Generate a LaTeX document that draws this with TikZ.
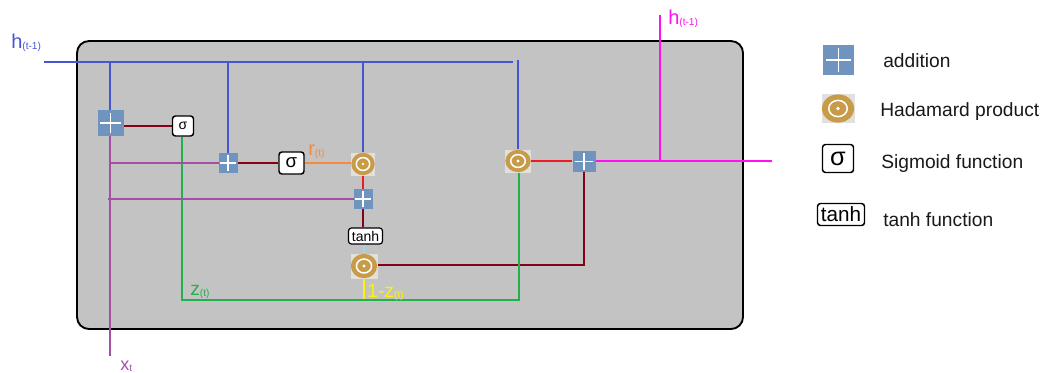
\documentclass[tikz,border=0pt]{standalone}
\usepackage{fontspec}
\setmainfont{Liberation Sans}
\pgfdeclarelayer{panellayer}
\pgfdeclarelayer{wirelayer}
\pgfsetlayers{panellayer,wirelayer,main}
\definecolor{panelgray}{HTML}{C3C3C3}
\definecolor{plusblue}{HTML}{7094C0}
\definecolor{gold}{HTML}{C89B48}
\definecolor{hadbg}{HTML}{E2E0DC}
\definecolor{hblue}{HTML}{4655D2}
\definecolor{xpurple}{HTML}{A44FA6}
\definecolor{zgreen}{HTML}{22B14C}
\definecolor{dred}{HTML}{880015}
\definecolor{lred}{HTML}{ED1C24}
\definecolor{rorange}{HTML}{F58A3C}
\definecolor{ymag}{HTML}{FF10F0}
\definecolor{yyellow}{HTML}{FFF200}
\definecolor{lblue}{HTML}{99D9EA}
\newcommand{\lbl}[3]{\fontsize{#1}{#1}\selectfont #2\raisebox{-0.75pt}{\fontsize{7.6}{8}\selectfont #3}}
\tikzset{
  addbox/.style 2 args={rectangle,draw=none,fill=plusblue,inner sep=0pt,minimum width=#1*0.75pt,minimum height=#2*0.75pt,
    path picture={
      \draw[white,line width=0.9pt] ([xshift=-#1*0.3pt]path picture bounding box.center) -- ([xshift=#1*0.3pt]path picture bounding box.center);
      \draw[white,line width=0.9pt] ([yshift=-#2*0.3pt]path picture bounding box.center) -- ([yshift=#2*0.3pt]path picture bounding box.center);
    }},
  hadbox/.style 2 args={rectangle,draw=none,fill=hadbg,inner sep=0pt,minimum width=#1*0.75pt,minimum height=#2*0.75pt,
    path picture={
      \fill[gold] (path picture bounding box.center) ellipse [x radius=#1*0.365pt,y radius=#2*0.365pt];
      \draw[white,line width=1.15pt] (path picture bounding box.center) ellipse [x radius=#1*0.21pt,y radius=#2*0.21pt];
      \fill[white] (path picture bounding box.center) circle [radius=#1*0.045pt];
    }},
  fnbox/.style={rectangle,rounded corners=2.2pt,draw=black,line width=1.1pt,fill=white,inner sep=0pt},
  wire/.style={line width=1.5pt,line cap=butt},
  label text/.style={inner sep=0pt,anchor=base west},
  legend text/.style={inner sep=0pt,anchor=base west,font=\fontsize{14.4}{15}\selectfont,text=black!90},
}
\begin{document}
\begin{tikzpicture}[x=0.75pt,y=-0.75pt]
\useasboundingbox (0,0) rectangle (1045,372);
\begin{pgfonlayer}{panellayer}
\node[rectangle,rounded corners=9pt,draw=black,line width=1.4pt,fill=panelgray,minimum width=666*0.75pt,minimum height=288*0.75pt,inner sep=0pt] (panel) at (410,185) {};
\end{pgfonlayer}
% junctions
\coordinate (hin) at (44,62);
\coordinate (hend) at (513,62);
\coordinate (hj) at (110,62);
\coordinate (hgap) at (518,60);
\coordinate (xend) at (110,356);
\coordinate (xa) at (110,163);
\coordinate (xb) at (108,199);
\coordinate (gc) at (182,300);
\coordinate (gd) at (519,300);
\coordinate (dc) at (584,265);
\coordinate (mout) at (772,161);
\coordinate (mtop) at (660,15);
\coordinate (mj) at (660,161);
% nodes
\node[addbox={26}{26}] (add1) at (110.5,123) {};
\node[fnbox,minimum width=21*0.75pt,minimum height=20*0.75pt,font=\fontsize{10.5}{11}\selectfont] (sig1) at (183,126) {σ};
\node[addbox={19}{20}] (add2) at (228,163) {};
\node[fnbox,minimum width=25*0.75pt,minimum height=22*0.75pt,font=\fontsize{14}{14}\selectfont] (sig2) at (291.5,163) {σ};
\node[hadbox={24}{23}] (had1) at (363,164) {};
\node[addbox={19}{20}] (add3) at (363,199) {};
\node[fnbox,minimum width=34*0.75pt,minimum height=16*0.75pt,line width=0.9pt,font=\fontsize{10.5}{11}\selectfont] (tanh) at (365.5,236) {tanh};
\node[hadbox={27}{25}] (had2) at (364,266) {};
\node[hadbox={26}{23}] (had3) at (518,161) {};
\node[addbox={23}{21}] (add4) at (584,161.5) {};
% wires
\begin{pgfonlayer}{wirelayer}
\draw[wire,hblue] (hin) -- (hend);
\draw[wire,hblue] (hj) -- (hj |- add1.north);
\draw[wire,hblue] (add2 |- hin) -- (add2);
\draw[wire,hblue] (had1 |- hin) -- (had1);
\draw[wire,hblue] (hgap) -- (hgap |- had3.north);
\draw[wire,yyellow] (had2.south) -- (had2 |- gc);
\draw[wire,dred] (had2.east |- dc) -- (dc) -- (add4.south);
\draw[wire,zgreen] (gc |- sig1.south) -- (gc) -- (gd) -- (gd |- had3.south);
\draw[wire,xpurple] (xend |- add1.south) -- (xend);
\draw[wire,xpurple] (xa) -- (add2 |- xa);
\draw[wire,xpurple] (xb) -- (add3 |- xb);
\draw[wire,dred] (add1.east |- sig1) -- (sig1.west);
\draw[wire,dred] (add2.east |- sig2) -- (sig2.west);
\draw[wire,rorange] (sig2.east) -- (had1.west |- sig2);
\draw[wire,lred] (had1.south) -- (add3.north);
\draw[wire,dred] (add3.south) -- (add3 |- tanh.north);
\draw[wire,lblue] (had2 |- tanh.south) -- (had2.north);
\draw[wire,lred] (had3.east) -- (add4.west |- had3);
\draw[wire,ymag] (add4.east |- mout) -- (mout);
\draw[wire,ymag] (mj) -- (mtop);
\end{pgfonlayer}
% labels
\node[label text,text=hblue] (lh) at (11,48) {\lbl{15}{h}{(t-1)}};
\node[label text,text=ymag] (lh2) at (668,24) {\lbl{15}{h}{(t-1)}};
\node[label text,text=rorange] (lr) at (308,155) {\lbl{15}{r}{(t)}};
\node[label text,text=zgreen] (lz) at (190,295) {\lbl{14.5}{z}{(t)}};
\node[label text,text=yyellow] (ly) at (367,297) {\lbl{14.5}{1-z}{(t)}};
\node[label text,text=xpurple] (lx) at (120,370) {\lbl{13.5}{x}{t}};
% legend
\node[addbox={31}{30}] (ladd) at (838.5,60) {};
\node[hadbox={33}{29}] (lhad) at (838,108.5) {};
\node[fnbox,minimum width=31*0.75pt,minimum height=28*0.75pt,font=\fontsize{19}{19}\selectfont] (lsig) at (838,158.5) {σ};
\node[fnbox,minimum width=47*0.75pt,minimum height=22*0.75pt,font=\fontsize{15.5}{16}\selectfont] (ltanh) at (841,214.5) {tanh};
\node[legend text] (t1) at (883,67) {addition};
\node[legend text] (t2) at (880,116) {Hadamard product};
\node[legend text] (t3) at (881,168) {Sigmoid function};
\node[legend text] (t4) at (883,226) {tanh function};
\end{tikzpicture}
\end{document}
